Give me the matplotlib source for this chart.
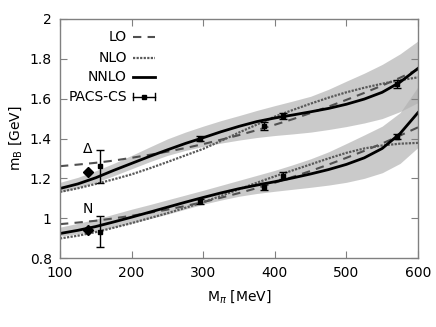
import numpy as np
import matplotlib
matplotlib.use("Agg")
import matplotlib.pyplot as plt

m_pi = [100, 125, 150, 175, 200, 225, 250, 275, 300, 325, 350, 375, 400,
        425, 450, 475, 500, 525, 550, 575, 600]

# Delta
delta_lo = [1.261, 1.269, 1.278, 1.289, 1.303, 1.318, 1.334, 1.352, 1.372, 1.394, 1.417, 1.442, 1.469,
            1.497, 1.528, 1.560, 1.594, 1.629, 1.666, 1.705, 1.747]
delta_nlo = [1.132, 1.150, 1.172, 1.195, 1.220, 1.250, 1.282, 1.315, 1.348, 1.388, 1.430, 1.470, 1.510,
             1.543, 1.575, 1.605, 1.632, 1.655, 1.675, 1.693, 1.707]
delta_nnlo = [1.149, 1.172, 1.203, 1.240, 1.275, 1.310, 1.343, 1.375, 1.404, 1.434, 1.461, 1.485, 1.503,
              1.518, 1.534, 1.551, 1.572, 1.598, 1.632, 1.683, 1.752]
delta_hi = [1.180, 1.205, 1.238, 1.275, 1.315, 1.357, 1.398, 1.432, 1.462, 1.490, 1.515, 1.541, 1.565,
            1.588, 1.612, 1.647, 1.688, 1.728, 1.772, 1.825, 1.890]
delta_lo_band = [1.130, 1.153, 1.180, 1.213, 1.248, 1.283, 1.315, 1.340, 1.360, 1.377, 1.392, 1.405, 1.415,
                 1.423, 1.432, 1.445, 1.460, 1.478, 1.500, 1.535, 1.580]

# Nucleon
nuc_lo = [0.970, 0.978, 0.987, 0.999, 1.012, 1.027, 1.043, 1.061, 1.081, 1.103, 1.126, 1.151, 1.178,
          1.207, 1.237, 1.269, 1.303, 1.338, 1.375, 1.415, 1.456]
nuc_nlo = [0.898, 0.912, 0.930, 0.952, 0.975, 1.000, 1.025, 1.052, 1.080, 1.112, 1.145, 1.178, 1.210,
           1.240, 1.270, 1.300, 1.328, 1.350, 1.365, 1.374, 1.378]
nuc_nnlo = [0.923, 0.939, 0.958, 0.981, 1.005, 1.030, 1.055, 1.080, 1.104, 1.127, 1.148, 1.166, 1.183,
            1.202, 1.222, 1.244, 1.270, 1.303, 1.350, 1.425, 1.530]
nuc_hi = [0.955, 0.974, 0.995, 1.020, 1.045, 1.068, 1.092, 1.116, 1.140, 1.165, 1.190, 1.215, 1.240,
          1.268, 1.298, 1.333, 1.375, 1.418, 1.462, 1.530, 1.660]
nuc_lo_band = [0.910, 0.921, 0.935, 0.954, 0.975, 0.997, 1.020, 1.045, 1.070, 1.091, 1.110, 1.124, 1.135,
               1.145, 1.155, 1.166, 1.180, 1.200, 1.228, 1.275, 1.355]

# PACS-CS lattice points
pacs_m = [156, 296, 385, 411, 570]
pacs_delta = [1.260, 1.400, 1.462, 1.515, 1.675]
pacs_delta_err = [0.083, 0.012, 0.020, 0.015, 0.020]
pacs_nuc = [0.931, 1.084, 1.158, 1.214, 1.409]
pacs_nuc_err = [0.078, 0.012, 0.018, 0.018, 0.012]

# physical masses
phys_m = [139, 139]
phys_mass = [1.232, 0.939]

fig = plt.figure(figsize=(4.36, 3.27), dpi=100)
ax = fig.add_axes([0.1376, 0.211, 0.8211, 0.7309])

band_kw = dict(color="#b2b2b2", alpha=0.68, linewidth=0)
ax.fill_between(m_pi, delta_lo_band, delta_hi, **band_kw)
ax.fill_between(m_pi, nuc_lo_band, nuc_hi, **band_kw)

lo_kw = dict(color="#505050", linewidth=1.5, dashes=(4, 3))
nlo_kw = dict(color="#5a5a5a", linewidth=1.6, linestyle=(0, (1, 0.6)))
nnlo_kw = dict(color="black", linewidth=2.0)

for lo, nlo, nnlo in [(delta_lo, delta_nlo, delta_nnlo), (nuc_lo, nuc_nlo, nuc_nnlo)]:
    ax.plot(m_pi, lo, **lo_kw)
    ax.plot(m_pi, nlo, **nlo_kw)
    ax.plot(m_pi, nnlo, **nnlo_kw)

err_kw = dict(fmt="s", color="black", markersize=3, elinewidth=1.0, capsize=3, capthick=1.0)
ax.errorbar(pacs_m, pacs_delta, yerr=pacs_delta_err, **err_kw)
ax.errorbar(pacs_m, pacs_nuc, yerr=pacs_nuc_err, **err_kw)
ax.plot(phys_m, phys_mass, "D", color="black", markersize=5.5)

ax.text(139, 1.345, "Δ", ha="center", va="center", fontsize=10)
ax.text(139, 1.045, "N", ha="center", va="center", fontsize=10)

# gnuplot-like key, labels on the left of the samples
key_y = [0.925, 0.837, 0.757, 0.674]
key_names = ["LO", "NLO", "NNLO", "PACS-CS"]
x0, x1 = 0.204, 0.265
for yk, name in zip(key_y, key_names):
    ax.text(0.187, yk, name, transform=ax.transAxes, ha="right", va="center", fontsize=10)
ax.plot([x0, x1], [key_y[0]] * 2, transform=ax.transAxes, **lo_kw)
ax.plot([x0, x1], [key_y[1]] * 2, transform=ax.transAxes, **nlo_kw)
ax.plot([x0, x1], [key_y[2]] * 2, transform=ax.transAxes, **nnlo_kw)
ax.plot([x0, x1], [key_y[3]] * 2, transform=ax.transAxes, color="black", linewidth=1.0)
for xe in (x0, x1):
    ax.plot([xe, xe], [key_y[3] - 0.015, key_y[3] + 0.015], transform=ax.transAxes,
            color="black", linewidth=1.0)
ax.plot([(x0 + x1) / 2], [key_y[3]], "s", transform=ax.transAxes, color="black", markersize=3)

ax.set_xlim(100, 600)
ax.set_ylim(0.8, 2.0)
ax.set_xticks([100, 200, 300, 400, 500, 600])
ax.set_yticks([0.8, 1.0, 1.2, 1.4, 1.6, 1.8, 2.0])
ax.set_yticklabels(["0.8", "1", "1.2", "1.4", "1.6", "1.8", "2"])
ax.tick_params(direction="in", top=True, right=True, length=5, color="#808080",
               labelsize=10, pad=6)
for sp in ax.spines.values():
    sp.set_color("#808080")
    sp.set_linewidth(1.0)

ax.set_xlabel(r"M$_\pi$ [MeV]", fontsize=10, labelpad=6)
ax.set_ylabel(r"m$_\mathrm{B}$ [GeV]", fontsize=10, labelpad=4)

fig.savefig("out.png", dpi=100)
